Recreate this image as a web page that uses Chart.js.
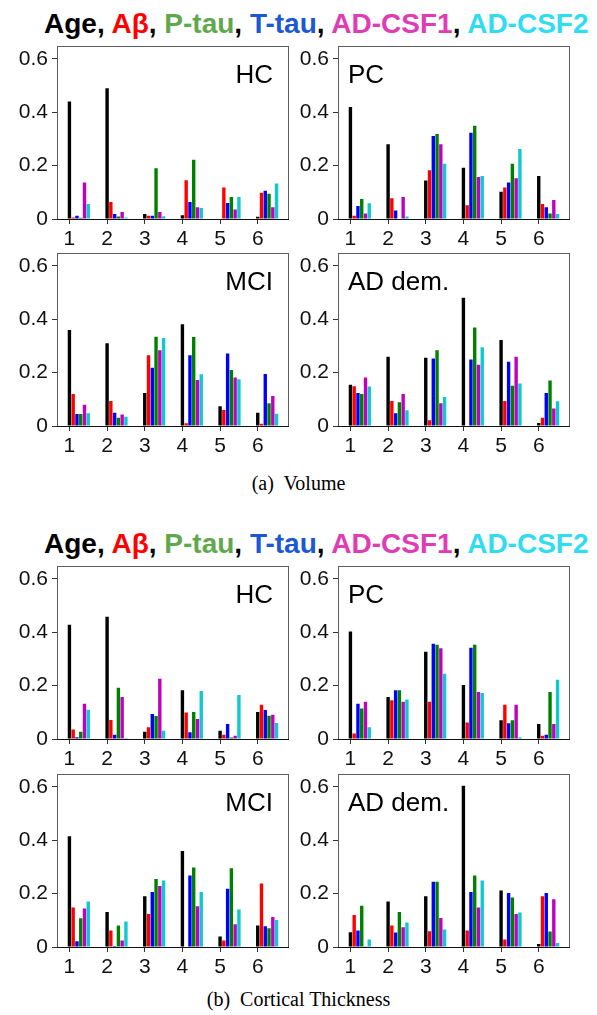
<!DOCTYPE html>
<html>
<head>
<meta charset="utf-8">
<script src="https://cdn.jsdelivr.net/npm/chart.js@4.4.0/dist/chart.umd.min.js"></script>
<style>
  body { margin: 0; background: #fff; width: 597px; height: 1015px; position: relative; overflow: hidden;
         font-family: "Liberation Sans", Arial, sans-serif; }
  .legend { position: absolute; left: 44px; font-weight: bold; font-size: 28px; line-height: 30px; white-space: nowrap; }
  .cap { position: absolute; left: 0; width: 597px; text-align: center; font-family: "Liberation Serif", "Times New Roman", serif;
         font-size: 20px; line-height: 24px; }
  canvas { position: absolute; }
</style>
</head>
<body>

<div class="legend" style="top:9px"><span style="color:#000">Age</span>, <span style="color:#ff0000">Aβ</span>, <span style="color:#5fa84c">P-tau</span>, <span style="color:#1c58d4">T-tau</span>, <span style="color:#e03cb4">AD-CSF1</span>, <span style="color:#30dcf0">AD-CSF2</span></div>
<canvas id="volHC" width="288" height="220" style="left:7px;top:29px"></canvas>
<canvas id="volPC" width="288" height="220" style="left:288px;top:29px"></canvas>
<canvas id="volMCI" width="288" height="220" style="left:7px;top:236px"></canvas>
<canvas id="volAD" width="288" height="220" style="left:288px;top:236px"></canvas>
<div class="cap" style="top:471px">(a)&nbsp; Volume</div>

<div class="legend" style="top:529px"><span style="color:#000">Age</span>, <span style="color:#ff0000">Aβ</span>, <span style="color:#5fa84c">P-tau</span>, <span style="color:#1c58d4">T-tau</span>, <span style="color:#e03cb4">AD-CSF1</span>, <span style="color:#30dcf0">AD-CSF2</span></div>
<canvas id="ctHC" width="288" height="220" style="left:7px;top:549px"></canvas>
<canvas id="ctPC" width="288" height="220" style="left:288px;top:549px"></canvas>
<canvas id="ctMCI" width="288" height="220" style="left:7px;top:757px"></canvas>
<canvas id="ctAD" width="288" height="220" style="left:288px;top:757px"></canvas>
<div class="cap" style="top:987px">(b)&nbsp; Cortical Thickness</div>

<script>
// bar order inside each group: Age, Aβ, T-tau, P-tau, AD-CSF1, AD-CSF2
const groups = [1, 2, 3, 4, 5, 6];
const seriesNames = ['Age', 'Aβ', 'T-tau', 'P-tau', 'AD-CSF1', 'AD-CSF2'];
const barColors = ['#000000', '#ff0000', '#0000ff', '#008000', '#bf00bf', '#10c8d0'];
const yTicks = [0, 0.2, 0.4, 0.6];

// (a) Volume
const volHC = [
    [0.44, 0.49, 0.019, 0.014, 0.002, 0.008],
    [0.006, 0.064, 0.012, 0.145, 0.118, 0.098],
    [0.012, 0.019, 0.012, 0.064, 0.06, 0.106],
    [0.005, 0.009, 0.19, 0.222, 0.082, 0.095],
    [0.137, 0.026, 0.026, 0.044, 0.036, 0.044],
    [0.056, 0.006, 0.01, 0.041, 0.082, 0.133]
];
const volPC = [
    [0.42, 0.28, 0.144, 0.192, 0.102, 0.161],
    [0.012, 0.078, 0.183, 0.052, 0.118, 0.056],
    [0.049, 0.032, 0.311, 0.323, 0.137, 0.044],
    [0.075, 0, 0.319, 0.35, 0.207, 0.021],
    [0.021, 0.082, 0.28, 0.157, 0.153, 0.071],
    [0.059, 0.009, 0.207, 0.161, 0.262, 0.019]
];
const volMCI = [
    [0.36, 0.31, 0.124, 0.381, 0.074, 0.05],
    [0.12, 0.094, 0.265, 0.01, 0.06, 0.008],
    [0.045, 0.05, 0.218, 0.265, 0.272, 0.195],
    [0.045, 0.031, 0.335, 0.334, 0.21, 0.085],
    [0.08, 0.043, 0.284, 0.172, 0.182, 0.112],
    [0.048, 0.035, 0.33, 0.194, 0.175, 0.046]
];
const volAD = [
    [0.155, 0.26, 0.256, 0.481, 0.322, 0.011],
    [0.149, 0.094, 0.022, 0, 0.094, 0.031],
    [0.124, 0.048, 0.253, 0.249, 0.241, 0.124],
    [0.12, 0.089, 0.284, 0.369, 0.151, 0.171],
    [0.182, 0.12, 0.085, 0.23, 0.26, 0.066],
    [0.148, 0.059, 0.109, 0.295, 0.159, 0.093]
];

// (b) Cortical Thickness
const ctHC = [
    [0.428, 0.458, 0.027, 0.183, 0.031, 0.101],
    [0.036, 0.071, 0.044, 0.099, 0.016, 0.128],
    [0.007, 0.016, 0.094, 0.025, 0.056, 0.109],
    [0.027, 0.192, 0.086, 0.101, 0.006, 0.087],
    [0.132, 0.157, 0.226, 0.075, 0.012, 0.091],
    [0.11, 0.004, 0.031, 0.18, 0.165, 0.06]
];
const ctPC = [
    [0.403, 0.157, 0.327, 0.202, 0.07, 0.056],
    [0.021, 0.145, 0.14, 0.062, 0.128, 0.012],
    [0.132, 0.183, 0.357, 0.342, 0.059, 0.016],
    [0.114, 0.183, 0.353, 0.353, 0.07, 0.176],
    [0.14, 0.14, 0.34, 0.176, 0.128, 0.056],
    [0.044, 0.148, 0.245, 0.172, 0.007, 0.222]
];
const ctMCI = [
    [0.415, 0.131, 0.19, 0.36, 0.039, 0.081],
    [0.148, 0.062, 0.124, 0, 0.024, 0.238],
    [0.022, 0.004, 0.206, 0.268, 0.218, 0.078],
    [0.108, 0.081, 0.255, 0.298, 0.295, 0.07],
    [0.144, 0.024, 0.229, 0.153, 0.085, 0.112],
    [0.171, 0.096, 0.249, 0.206, 0.141, 0.101]
];
const ctAD = [
    [0.055, 0.171, 0.19, 0.604, 0.212, 0.011],
    [0.12, 0.081, 0.059, 0.062, 0.028, 0.19],
    [0.062, 0.054, 0.245, 0.206, 0.202, 0.202],
    [0.155, 0.131, 0.245, 0.268, 0.186, 0.058],
    [0.003, 0.074, 0.109, 0.148, 0.124, 0.179],
    [0.028, 0.092, 0.066, 0.249, 0.129, 0.015]
];

const FONT = '"Liberation Sans", Arial, sans-serif';

// box around plot + group name
const frame = {
    id: 'frame',
    afterDraw(chart, args, opts) {
        const { ctx, chartArea: a } = chart;
        ctx.save();
        ctx.strokeStyle = '#5c5c5c';
        ctx.lineWidth = 1;
        ctx.strokeRect(Math.round(a.left) + 0.5, Math.round(a.top) + 0.5, Math.round(a.width) - 1, Math.round(a.height));
        ctx.strokeStyle = '#111';
        ctx.beginPath();
        ctx.moveTo(a.left, Math.round(a.bottom) + 0.5);
        ctx.lineTo(a.right, Math.round(a.bottom) + 0.5);
        ctx.stroke();
        ctx.fillStyle = '#000';
        ctx.font = '26px ' + FONT;
        ctx.textBaseline = 'alphabetic';
        if (opts.side == 'right') {
            ctx.textAlign = 'right';
            ctx.fillText(opts.name, a.right - 16, a.top + 37);
        } else {
            ctx.textAlign = 'left';
            ctx.fillText(opts.name, a.left + 10, a.top + 37);
        }
        ctx.restore();
    }
};

function desenhar(id, valores, nome, lado) {
    const datasets = valores.map((serie, k) => ({
        label: seriesNames[k],
        data: serie.map((v, i) => ({ x: groups[i] + k * 0.1, y: v })),
        backgroundColor: barColors[k],
        borderWidth: 0,
        grouped: false,
        barPercentage: 0.9,
        categoryPercentage: 1
    }));

    return new Chart(document.getElementById(id), {
        type: 'bar',
        data: { datasets: datasets },
        options: {
            responsive: false,
            animation: false,
            devicePixelRatio: 1,
            layout: { padding: { top: 16, right: 6, left: 0, bottom: 0 } },
            plugins: {
                legend: { display: false },
                tooltip: { enabled: false },
                frame: { name: nome, side: lado }
            },
            scales: {
                x: {
                    type: 'linear',
                    offset: false,
                    min: 0.67,
                    max: 6.83,
                    afterBuildTicks: s => { s.ticks = groups.map(v => ({ value: v })); },
                    afterFit: s => { s.height = 30; },
                    ticks: { color: '#111', font: { family: FONT, size: 21 }, padding: 3, maxRotation: 0, autoSkip: false,
                             callback: v => String(v) },
                    grid: { drawOnChartArea: false, offset: false, tickLength: 5, color: '#333' },
                    border: { display: false }
                },
                y: {
                    min: 0,
                    max: 0.65,
                    afterBuildTicks: s => { s.ticks = yTicks.map(v => ({ value: v })); },
                    afterFit: s => { s.width = 50; },
                    ticks: { color: '#111', font: { family: FONT, size: 21 }, padding: 4,
                             callback: v => v == 0 ? '0' : v.toFixed(1) },
                    grid: { drawOnChartArea: false, tickLength: 5, color: '#333' },
                    border: { display: false }
                }
            }
        },
        plugins: [frame]
    });
}

desenhar('volHC', volHC, 'HC', 'right');
desenhar('volPC', volPC, 'PC', 'left');
desenhar('volMCI', volMCI, 'MCI', 'right');
desenhar('volAD', volAD, 'AD dem.', 'left');
desenhar('ctHC', ctHC, 'HC', 'right');
desenhar('ctPC', ctPC, 'PC', 'left');
desenhar('ctMCI', ctMCI, 'MCI', 'right');
desenhar('ctAD', ctAD, 'AD dem.', 'left');
</script>
</body>
</html>
